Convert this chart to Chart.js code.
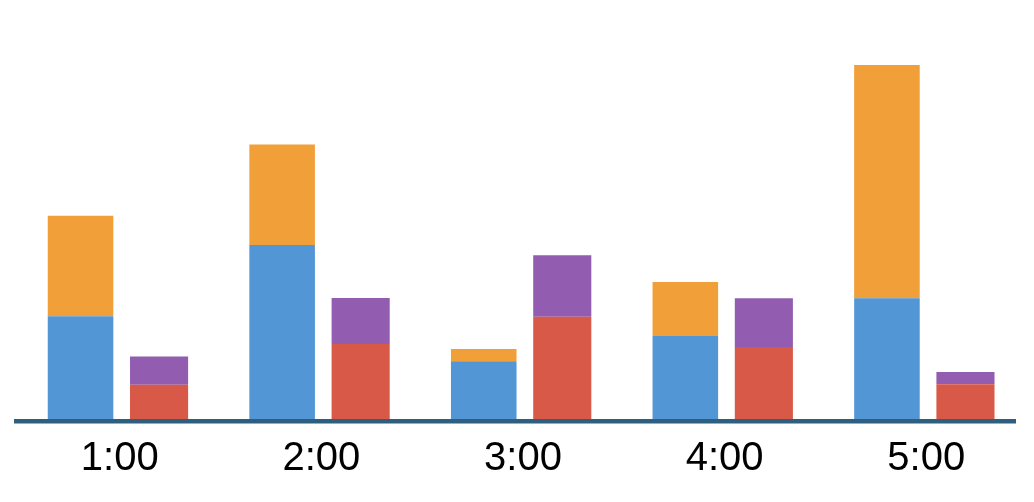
<!DOCTYPE html>
<html>
<head>
<meta charset="utf-8">
<script src="https://cdn.jsdelivr.net/npm/chart.js@4.4.1/dist/chart.umd.min.js"></script>
<style>
  html, body { margin: 0; padding: 0; background: #ffffff; }
  #wrap { width: 1034px; height: 502px; position: relative; }
</style>
</head>
<body>
<div id="wrap"><canvas id="c" width="1034" height="502"></canvas></div>
<script>
// ---- data ----
const categories = ["1:00", "2:00", "3:00", "4:00", "5:00"];
const blueValues   = [24.5, 41.5, 13.8, 19.8, 28.8];
const orangeValues = [24.0, 24.0, 2.9, 12.9, 55.7];
const redValues    = [8.2, 17.9, 24.4, 17.2, 8.3];
const purpleValues = [6.7, 11.0, 14.7, 11.6, 2.9];
const yMin = 0;
const yMax = 100;

// ---- styles ----
const COLORS = {
  blue: "#5296D6",
  orange: "#F19F39",
  red: "#D85947",
  purple: "#925DB0",
  axis: "#2E5F7E"
};

const baseline = {
  id: "baseline",
  beforeDatasetsDraw(chart) {
    const { ctx, chartArea } = chart;
    const y = chart.scales.y.getPixelForValue(yMin);
    ctx.save();
    ctx.fillStyle = COLORS.axis;
    ctx.fillRect(chartArea.left - 5, y, (chartArea.right - 11) - (chartArea.left - 5), 4.5);
    ctx.restore();
  }
};

new Chart(document.getElementById("c"), {
  type: "bar",
  data: {
    labels: categories,
    datasets: [
      { label: "A1", data: blueValues, backgroundColor: COLORS.blue, stack: "a", barPercentage: 0.835 },
      { label: "A2", data: orangeValues, backgroundColor: COLORS.orange, stack: "a", barPercentage: 0.835 },
      { label: "B1", data: redValues, backgroundColor: COLORS.red, stack: "b", barPercentage: 0.74 },
      { label: "B2", data: purpleValues, backgroundColor: COLORS.purple, stack: "b", barPercentage: 0.74 }
    ]
  },
  options: {
    responsive: false,
    animation: false,
    devicePixelRatio: 1,
    categoryPercentage: 0.779,
    layout: { padding: { left: 19, right: 7, top: 0, bottom: 3 } },
    plugins: {
      legend: { display: false },
      tooltip: { enabled: false },
      title: { display: false }
    },
    scales: {
      x: {
        stacked: true,
        offset: true,
        grid: { display: false, drawTicks: false },
        border: { display: false },
        ticks: {
          color: "#000000",
          padding: 16,
          maxRotation: 0,
          autoSkip: false,
          font: { family: "'Liberation Sans', Arial, sans-serif", size: 40, lineHeight: 1.2 }
        }
      },
      y: {
        stacked: true,
        display: false,
        min: yMin,
        max: yMax
      }
    }
  },
  plugins: [baseline]
});
</script>
</body>
</html>
